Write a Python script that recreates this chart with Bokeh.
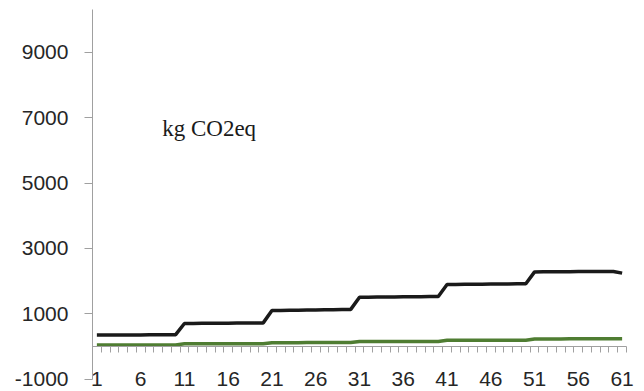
from bokeh.plotting import figure
from bokeh.models import Range1d, FixedTicker, Label, LinearAxis, CustomJSTickFormatter
from bokeh.embed import file_html
from bokeh.resources import INLINE

# ---- data ----
periods = list(range(1, 62))

black_series = [
    350, 351, 352, 354, 355, 356, 358, 359, 361, 362,
    705, 707, 709, 711, 713, 715, 717, 719, 721, 723,
    1100, 1104, 1108, 1112, 1116, 1120, 1124, 1128, 1132, 1136,
    1505, 1508, 1511, 1514, 1517, 1520, 1523, 1526, 1529, 1532,
    1895, 1898, 1901, 1904, 1907, 1910, 1913, 1916, 1919, 1922,
    2282, 2284, 2286, 2288, 2290, 2292, 2294, 2295, 2296, 2296, 2245,
]

green_series = [
    45, 45, 45, 46, 46, 46, 47, 47, 47, 48,
    82, 82, 83, 83, 84, 84, 85, 85, 86, 86,
    118, 118, 119, 119, 120, 120, 121, 121, 122, 122,
    152, 152, 153, 153, 154, 154, 155, 155, 156, 156,
    190, 190, 191, 191, 192, 192, 193, 193, 194, 194,
    232, 232, 233, 233, 234, 234, 235, 235, 236, 236, 237,
]

x_tick_values = [1, 6, 11, 16, 21, 26, 31, 36, 41, 46, 51, 56, 61]
y_tick_values = [-1000, 1000, 3000, 5000, 7000, 9000]
category_edges = [i + 0.5 for i in range(0, 62)]
annotation_text = "kg CO2eq"

AXIS_GRAY = "#a0a0a0"
LABEL_COLOR = "#262626"
TICK_FONT = "Liberation Sans"
TICK_SIZE = "21px"

# plot frame covers the whole canvas; axes are drawn at fixed data locations
p = figure(
    width=644, height=391,
    output_backend="svg", toolbar_location=None,
    x_range=Range1d(-10.009, 63.556), y_range=Range1d(-1376, 10584),
    min_border_left=0, min_border_right=0,
    min_border_top=0, min_border_bottom=0,
)
p.outline_line_color = None
p.xgrid.visible = False
p.ygrid.visible = False
p.background_fill_color = "white"
p.border_fill_color = "white"

# horizontal axis line crossing at y = 0 with category tick marks
xa = p.xaxis[0]
xa.fixed_location = 0
xa.bounds = (0.5, 61.5)
xa.ticker = FixedTicker(ticks=category_edges, minor_ticks=[])
xa.axis_line_color = AXIS_GRAY
xa.axis_line_width = 1
xa.major_tick_line_color = AXIS_GRAY
xa.major_tick_out = 6
xa.major_tick_in = 0
xa.minor_tick_out = 0
xa.minor_tick_in = 0
xa.formatter = CustomJSTickFormatter(code="return '';")
xa.major_label_text_font_size = "0px"

# category labels at the low position (level of -1000)
xl = LinearAxis(
    fixed_location=-1000,
    ticker=FixedTicker(ticks=x_tick_values, minor_ticks=[]),
    axis_line_color=None,
    major_tick_line_color=None,
    minor_tick_line_color=None,
    major_tick_out=0, major_tick_in=0,
    minor_tick_out=0, minor_tick_in=0,
    major_label_standoff=-7,
    major_label_text_font=TICK_FONT,
    major_label_text_font_size=TICK_SIZE,
    major_label_text_color=LABEL_COLOR,
)
p.add_layout(xl, "below")

# vertical axis
ya = p.yaxis[0]
ya.fixed_location = 0.5
ya.bounds = (-1000, 10300)
ya.ticker = FixedTicker(ticks=y_tick_values, minor_ticks=[])
ya.formatter = CustomJSTickFormatter(code="return String(tick);")
ya.axis_line_color = AXIS_GRAY
ya.major_tick_line_color = AXIS_GRAY
ya.major_tick_out = 8
ya.major_tick_in = 0
ya.minor_tick_out = 0
ya.minor_tick_in = 0
ya.major_label_standoff = 16
ya.major_label_text_font = TICK_FONT
ya.major_label_text_font_size = TICK_SIZE
ya.major_label_text_color = LABEL_COLOR

# series
p.line(periods, black_series, line_color="#1a1a1a", line_width=3.5)
p.line(periods, green_series, line_color="#4f7d32", line_width=3.5)

p.add_layout(Label(
    x=8.46, y=6668, text=annotation_text,
    text_font="Liberation Serif", text_font_size="23px",
    text_color="#1a1a1a", text_baseline="alphabetic",
))

open("out.html", "w").write(file_html(p, INLINE))
